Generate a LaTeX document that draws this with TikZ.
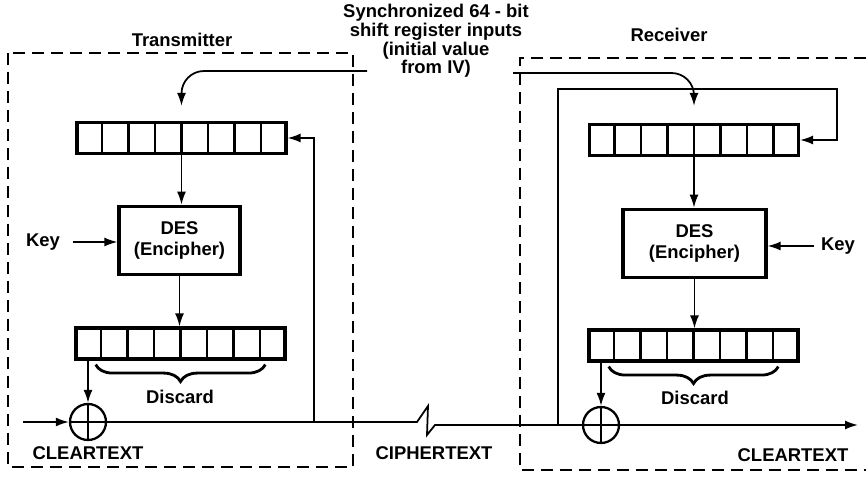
\documentclass[tikz,border=0pt]{standalone}
\usepackage{fontspec}
\setmainfont{Liberation Sans}
\usetikzlibrary{arrows.meta,calc,decorations.pathreplacing}

\begin{document}
\begin{tikzpicture}[x=0.02cm, y=-0.02cm, line width=1pt,
        arr/.style={-{Latex[length=2.6mm,width=1.8mm]}},
        frame/.style={dash pattern=on 0.24cm off 0.14cm, line width=1.1pt},
        reg/.style={draw, line width=1.8pt, minimum width=4.18cm, minimum height=0.62cm, inner sep=0},
        desbox/.style={draw, line width=1.8pt, minimum height=1.37cm, inner sep=0, align=center,
            font=\fontsize{10.5}{12}\selectfont\bfseries},
        xorop/.style={circle, draw, line width=1.3pt, minimum size=0.72cm, inner sep=0,
            path picture={\draw (path picture bounding box.north) -- (path picture bounding box.south)
                (path picture bounding box.west) -- (path picture bounding box.east);}},
        brc/.style={decorate, decoration={brace, mirror, amplitude=0.34cm}, line width=1.6pt},
        lbl/.style={font=\fontsize{10.5}{11}\selectfont\bfseries}]
    \useasboundingbox (0,0) rectangle (866,479);

    % transmitter
    \draw[frame] (8,53) rectangle (353,467);
    \node[lbl] (ttitle) at (182,40) {Transmitter};
    \node[reg] (treg) at (181.5,138) {};
    \node[desbox, minimum width=2.42cm] (tdes) at (179.5,240.5) {DES\\(Encipher)};
    \node[reg] (tout) at (180.5,343.5) {};
    \node[xorop] (txor) at (88,422) {};
    \node[lbl] (tkey) at (43,242) {Key};
    \node[lbl] (tdis) at (180,397) {Discard};
    \node[lbl] (tclear) at (88,453) {CLEARTEXT};
    \coordinate (tin) at (23,422);
    \coordinate (tiv) at (367,71);
    \coordinate (tfb) at (314,422);

    % receiver
    \draw[frame] (866,58) -- (520,58) -- (520,470) -- (866,470);
    \node[lbl] (rtitle) at (669,35) {Receiver};
    \node[reg] (rreg) at (694,140) {};
    \node[desbox, minimum width=2.86cm] (rdes) at (694.5,243.5) {DES\\(Encipher)};
    \node[reg] (rout) at (693.5,345.5) {};
    \node[xorop] (rxor) at (601,425) {};
    \node[lbl] (rkey) at (838,246) {Key};
    \node[lbl] (rdis) at (695,398) {Discard};
    \node[lbl] (rclear) at (793,455) {CLEARTEXT};
    \coordinate (riv) at (513,73);
    \coordinate (rfb) at (558,425);
    \coordinate (rtop) at (837,89);
    \coordinate (rend) at (858,425);

    \node[lbl] (cipher) at (434,453) {CIPHERTEXT};
    \node[align=center, font=\fontsize{10.5}{10.6}\selectfont\bfseries] (sync) at (436,41)
        {Synchronized 64 - bit\\shift register inputs\\(initial value\\from IV)};

    % register cells
    \foreach \r in {treg,tout,rreg,rout}
        \foreach \i in {1,...,7}
            \draw[line width=1.5pt] ($(\r.north west)!{\i/8}!(\r.north east)$) -- ($(\r.south west)!{\i/8}!(\r.south east)$);

    % transmitter connections
    \draw[arr, rounded corners=0.45cm] (tiv) -| ([yshift=0.3cm]treg.north);
    \draw[arr] (treg.south) -- (treg.south |- tdes.north);
    \draw[arr] ([xshift=0.12cm]tkey.east) -- (tkey.east -| tdes.west);
    \draw[arr] (tdes.south) -- (tdes.south |- tout.north);
    \draw[arr] (txor.north |- tout.south) -- (txor.north);
    \draw[arr] (tin) -- (txor);
    \draw[arr] (tfb) |- (treg.east);
    \draw[brc] ($(tout.south west)!0.1!(tout.south east) + (0,4)$) -- ($(tout.south west)!0.9!(tout.south east) + (0,4)$);

    % line between the two ends
    \draw (txor.east) -- (417,422) -- (428,406) -- (427,435) -- (435,425) -- (rfb) -- (rxor.west);

    % receiver connections
    \draw[arr, rounded corners=0.45cm] (riv) -| ([yshift=0.34cm]rreg.north);
    \draw[arr] (rfb) |- (rtop) |- (rreg.east);
    \draw[arr] (rreg.south) -- (rreg.south |- rdes.north);
    \draw[arr] (rkey.west) -- (rkey.west -| rdes.east);
    \draw[arr] (rdes.south) -- (rdes.south |- rout.north);
    \draw[arr] (rxor.north |- rout.south) -- (rxor.north);
    \draw[arr] (rxor.east) -- (rend);
    \draw[brc] ($(rout.south west)!0.1!(rout.south east) + (0,4)$) -- ($(rout.south west)!0.9!(rout.south east) + (0,4)$);
\end{tikzpicture}
\end{document}
